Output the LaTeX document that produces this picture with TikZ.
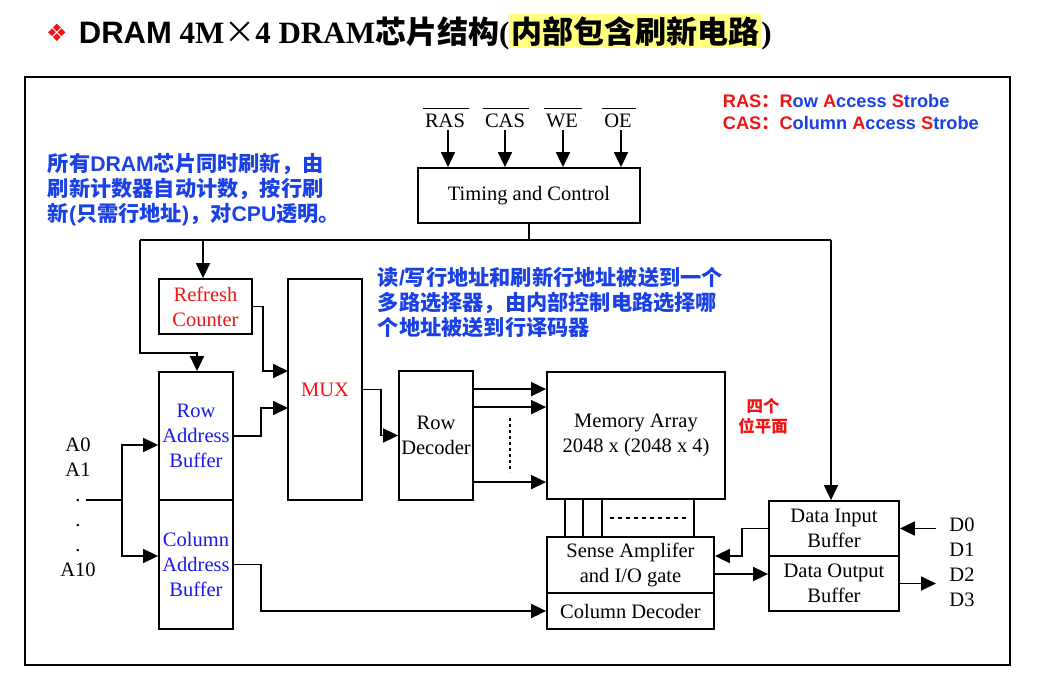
\documentclass[tikz,border=0pt]{standalone}
\usepackage{fontspec}
\setmainfont{Liberation Serif}
\setsansfont{Liberation Sans}
\newfontfamily\cjk{Noto Sans CJK SC}
\newfontfamily\dejavu{DejaVu Sans}
\usetikzlibrary{arrows.meta,calc}
\definecolor{bt}{RGB}{25,25,235}
\definecolor{an}{RGB}{25,65,230}
\definecolor{myred}{RGB}{240,20,20}
\definecolor{hl}{RGB}{255,255,128}
\newcommand{\fs}[2]{\fontsize{#1}{#2}\selectfont}
\newcommand{\rtxt}[1]{\textcolor{myred}{#1}}
\newcommand{\btxt}[1]{\textcolor{an}{#1}}
\newcommand{\lt}[1]{{\sffamily\bfseries #1}}
\tikzset{
  box/.style={draw, line width=1.8pt, inner sep=0pt, align=center, font={\fs{20.5}{25}}},
  lbl/.style={inner sep=0pt, align=center, font={\fs{20.5}{25}}},
  note/.style={inner sep=0pt, align=left, text=an, font={\cjk\bfseries\fs{21.2}{25}}},
  arr/.style={-{Triangle[length=15pt,width=14pt]}},
  bar/.style={line width=1.3pt},
}
\begin{document}
\begin{tikzpicture}[x=1pt,y=-1pt,line width=1.8pt]
\useasboundingbox (0,0) rectangle (1037,676);
% title
\node[inner sep=0pt, text=myred, font={\dejavu\fs{24}{24}}] (bul) at (57,33) {❖};
\node[anchor=west, inner sep=0pt, font={\fs{31}{35}}] (title) at (78,32)
  {\lt{DRAM} {\bfseries 4M}{\cjk ×}{\bfseries 4 DRAM}{\cjk\bfseries 芯片结构}{\bfseries (}{\setlength{\fboxsep}{2pt}\colorbox{hl}{\cjk\bfseries 内部包含刷新电路}}{\bfseries )}};
% frame
\draw (25,77) rectangle (1010,665);
% legend
\node[anchor=west, inner sep=0pt, font={\sffamily\bfseries\fs{18.2}{22}}] (leg1) at (722,101)
  {\rtxt{RAS{\cjk\bfseries ：}R}\btxt{ow }\rtxt{A}\btxt{ccess }\rtxt{S}\btxt{trobe}};
\node[anchor=west, inner sep=0pt, font={\sffamily\bfseries\fs{18.2}{22}}] (leg2) at (722,123)
  {\rtxt{CAS{\cjk\bfseries ：}C}\btxt{olumn }\rtxt{A}\btxt{ccess }\rtxt{S}\btxt{trobe}};
% notes
\node[note, anchor=west] (note1) at (47,190)
  {所有\lt{DRAM}芯片同时刷新，由\\刷新计数器自动计数，按行刷\\新\lt{(}只需行地址\lt{)}，对\lt{CPU}透明。};
\node[note, anchor=west] (note2) at (377,302)
  {读\lt{/}写行地址和刷新行地址被送到一个\\多路选择器，由内部控制电路选择哪\\个地址被送到行译码器};
\node[inner sep=0pt, align=center, text=myred, font={\cjk\bfseries\fs{16.5}{20}}] (bitp) at (763,416) {四个\\位平面};
% boxes
\node[box, minimum width=222pt, minimum height=55pt] (tc) at (529,195.5) {Timing and Control};
\node[box, minimum width=93pt, minimum height=55pt, text=myred] (rc) at (205.5,306.5) {Refresh\\Counter};
\node[box, minimum width=74pt, minimum height=221pt, text=myred] (mux) at (325,389.5) {MUX};
\node[box, minimum width=74pt, minimum height=128pt, text=bt] (rab) at (196,436) {Row\\Address\\Buffer};
\node[box, minimum width=74pt, minimum height=129pt, text=bt] (cab) at (196,564.5) {Column\\Address\\Buffer};
\node[box, minimum width=74pt, minimum height=129pt] (rdec) at (436,435.5) {Row\\Decoder};
\node[box, minimum width=178pt, minimum height=127pt] (ma) at (636,435.5) {Memory Array\\2048 x (2048 x 4)};
\node[box, minimum width=167pt, minimum height=56pt] (sa) at (630.5,565) {Sense Amplifer\\and I/O gate};
\node[box, minimum width=167pt, minimum height=36pt] (cd) at (630.5,611) {Column Decoder};
\node[box, minimum width=130pt, minimum height=55pt] (dib) at (834,528.5) {Data Input\\Buffer};
\node[box, minimum width=130pt, minimum height=55pt] (dob) at (834,583.5) {Data Output\\Buffer};
% control signals (with overbars)
\node[lbl] (ras) at (445,121) {RAS};
\node[lbl] (cas) at (505,121) {CAS};
\node[lbl] (we) at (562,121) {WE};
\node[lbl] (oe) at (618,121) {OE};
\foreach \s in {ras,cas,we,oe} {
  \draw[bar] ($(\s.north west)+(-1,-5)$) -- ($(\s.north east)+(3,-5)$);
}
\coordinate (ta1) at (448,130);
\coordinate (ta2) at (505,130);
\coordinate (ta3) at (563,130);
\coordinate (ta4) at (621,130);
\foreach \t in {ta1,ta2,ta3,ta4} \draw[arr] (\t) -- (\t |- tc.north);
% bus
\coordinate (busL) at (140,240);
\coordinate (busR) at (831,240);
\coordinate (rcTap) at (203,240);
\coordinate (rabJ) at (197,353);
\draw (tc.south) -- (tc.south |- busL);
\draw (busL) -- (busR);
\draw[arr] (busR) -- (busR |- dib.north);
\draw[arr] (rcTap) -- (rcTap |- rc.north);
\draw[arr] (busL) |- (rabJ) -- (rabJ |- rab.north);
% to mux
\coordinate (muxin1) at (288,371);
\coordinate (muxin2) at (288,408);
\draw[arr] (rc.east) -- ++(10,0) |- (muxin1);
\draw[arr] (rab.east) -- ++(27,0) |- (muxin2);
\draw[arr] (mux.east) -- ++(18,0) |- (rdec.west);
% row decoder to memory array
\path (rdec.north east) ++(0,19) coordinate (r1);
\path (rdec.north east) ++(0,37) coordinate (r2);
\path (rdec.north east) ++(0,112) coordinate (r3);
\foreach \r in {r1,r2,r3} \draw[arr] (\r) -- (\r -| ma.west);
\draw[line width=1.8pt, dash pattern=on 3pt off 3pt] (510,418) -- (510,472);
% memory array to sense amp
\foreach \dx in {19,37,56,148} \draw (ma.south west) ++(\dx,0) -- ++(0,38);
\draw[line width=1.5pt, dash pattern=on 4pt off 4pt] (610,518) -- (688,518);
% column buffer to column decoder
\draw[arr] (cab.east) -- ++(27,0) |- (cd.west);
% address inputs
\node[lbl, text=black] (alist) at (78,507.5) {A0\\A1\\.\\.\\.\\A10};
\coordinate (ain) at (86,500);
\coordinate (aj) at (122,500);
\draw (ain) -- (aj);
\draw[arr] (aj) |- ($(rab.west)+(0,9)$);
\draw[arr] (aj) |- ($(cab.west)+(0,-8.5)$);
% data path
\path (sa.east) ++(0,-9) coordinate (si);
\path (sa.east) ++(0,9) coordinate (so);
\draw[arr] (dib.west) -- ++(-26,0) |- (si);
\draw[arr] (so) -- (so -| dob.west);
\coordinate (din) at (936,528.5);
\coordinate (dout) at (936,583.5);
\draw[arr] (din) -- (dib.east);
\draw[arr] (dob.east) -- (dout);
\node[lbl] (dlist) at (962,562.5) {D0\\D1\\D2\\D3};
\end{tikzpicture}
\end{document}
